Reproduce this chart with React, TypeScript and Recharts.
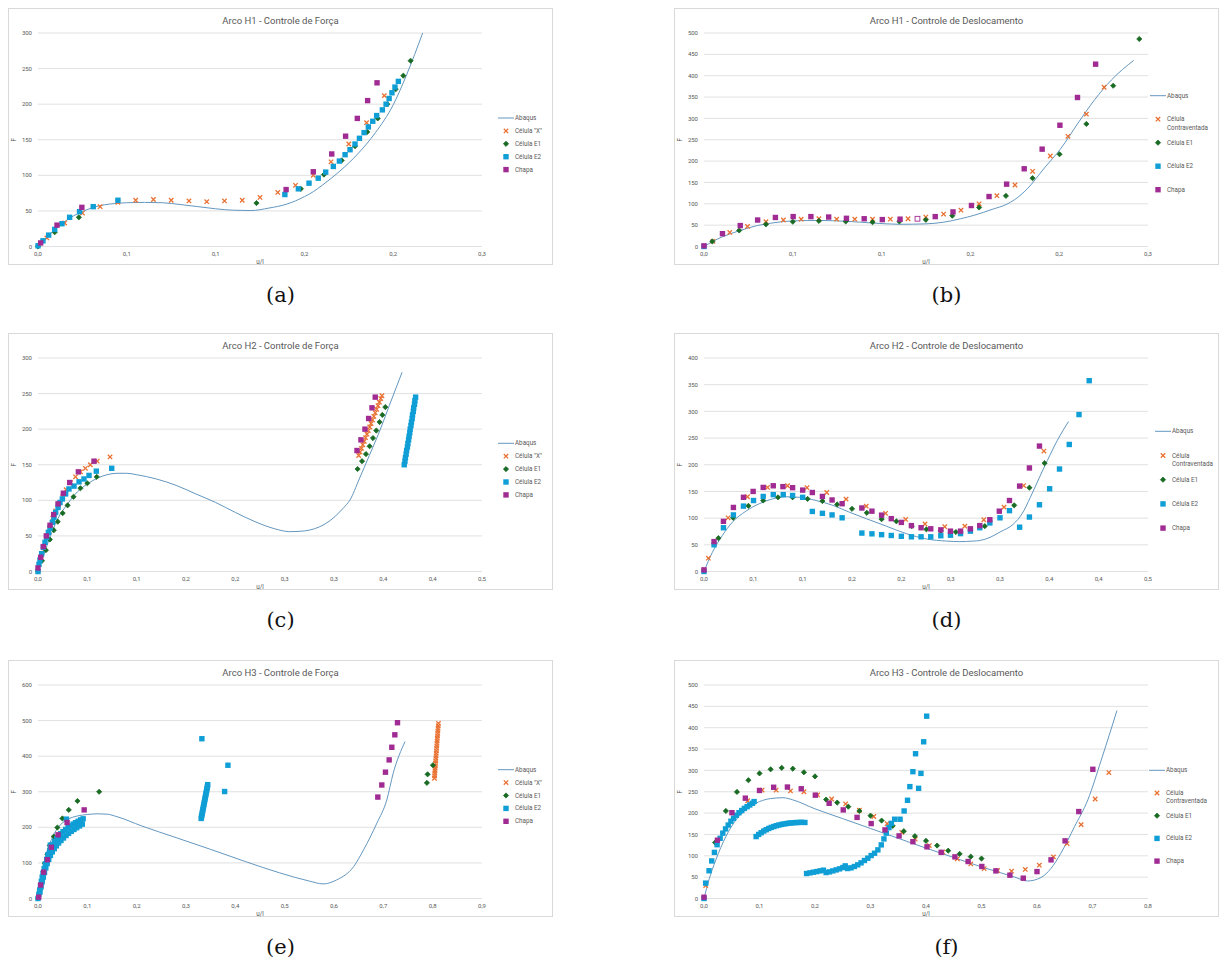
import React from "react";
import { ScatterChart, Scatter, XAxis, YAxis, CartesianGrid } from "recharts";

type P = [number, number];

// axis ticks + the (rounded) labels Excel prints for them
const X_TICKS_025 = [0, 0.05, 0.1, 0.15, 0.2, 0.25];
const X_LABELS_025 = ["0,0", "0,1", "0,1", "0,2", "0,2", "0,3"];
const X_TICKS_045 = [0, 0.05, 0.1, 0.15, 0.2, 0.25, 0.3, 0.35, 0.4, 0.45];
const X_LABELS_045 = ["0,0", "0,1", "0,1", "0,2", "0,2", "0,3", "0,3", "0,4", "0,4", "0,5"];
const X_TICKS_09 = [0, 0.1, 0.2, 0.3, 0.4, 0.5, 0.6, 0.7, 0.8, 0.9];
const X_LABELS_09 = ["0,0", "0,1", "0,2", "0,3", "0,4", "0,5", "0,6", "0,7", "0,8", "0,9"];
const X_TICKS_08 = [0, 0.1, 0.2, 0.3, 0.4, 0.5, 0.6, 0.7, 0.8];
const X_LABELS_08 = ["0,0", "0,1", "0,2", "0,3", "0,4", "0,5", "0,6", "0,7", "0,8"];
const Y_TICKS_300 = [0, 50, 100, 150, 200, 250, 300];
const Y_TICKS_400 = [0, 50, 100, 150, 200, 250, 300, 350, 400];
const Y_TICKS_500 = [0, 50, 100, 150, 200, 250, 300, 350, 400, 450, 500];
const Y_TICKS_600 = [0, 100, 200, 300, 400, 500, 600];

// (a) Arco H1 - Controle de Força   [u/l, F]
const A_ABAQUS: P[] = [[0, 0], [0.005, 13], [0.01, 25], [0.015, 35], [0.02, 43], [0.025, 49], [0.03, 54], [0.035, 57.5], [0.04, 59.5], [0.05, 61.5], [0.06, 62], [0.07, 61.5], [0.08, 59], [0.09, 56], [0.1, 53], [0.11, 51], [0.12, 50.5], [0.13, 54], [0.14, 59.5], [0.15, 70], [0.155, 77], [0.16, 86], [0.17, 106], [0.18, 130], [0.19, 160], [0.2, 199], [0.2075, 241], [0.2166, 300]];
const A_X: P[] = [[0.005, 12], [0.015, 33], [0.025, 47], [0.035, 56], [0.045, 62], [0.055, 65], [0.065, 66], [0.075, 65], [0.085, 64], [0.095, 63], [0.105, 64], [0.115, 65], [0.125, 69], [0.135, 76], [0.145, 86], [0.155, 100], [0.165, 119], [0.175, 144], [0.185, 174], [0.195, 212]];
const A_E1: P[] = [[0, 0], [0.0094, 20], [0.023, 41], [0.123, 61], [0.148, 81], [0.161, 101], [0.171, 121], [0.1785, 141], [0.1854, 161], [0.1913, 180], [0.1967, 200], [0.2014, 221], [0.2057, 240], [0.2098, 261]];
const A_E2: P[] = [[0, 1], [0.0028, 8], [0.006, 16], [0.0094, 24], [0.0135, 32], [0.0178, 41], [0.0234, 49], [0.0311, 56], [0.045, 65], [0.139, 73], [0.1466, 81], [0.1526, 89], [0.1578, 96], [0.162, 104.5], [0.1663, 112.5], [0.1697, 120], [0.1729, 129], [0.1757, 136], [0.1785, 144], [0.181, 152], [0.1836, 160], [0.186, 168], [0.1885, 176], [0.1907, 184], [0.1939, 192], [0.196, 200], [0.1977, 208], [0.1993, 216], [0.201, 224], [0.2029, 232]];
const A_CHAPA: P[] = [[0.0015, 5], [0.0107, 30], [0.0247, 55], [0.1397, 80], [0.155, 105], [0.1654, 130], [0.1732, 155], [0.1798, 180], [0.1856, 205], [0.1909, 230]];

// (b) Arco H1 - Controle de Deslocamento
const B_ABAQUS: P[] = [[0, 0], [0.005, 12], [0.01, 22], [0.02, 37], [0.03, 49], [0.04, 56], [0.05, 60], [0.065, 61], [0.08, 59], [0.095, 55], [0.11, 52], [0.125, 53], [0.135, 57], [0.1445, 65], [0.152, 73], [0.163, 88], [0.17, 98], [0.175, 110], [0.182, 135], [0.1917, 184], [0.201, 230], [0.2106, 289], [0.22, 344], [0.2294, 390], [0.242, 436]];
const B_X: P[] = [[0.005, 12], [0.0145, 33], [0.0245, 47], [0.0349, 58], [0.0447, 62], [0.0547, 64], [0.0647, 65], [0.0747, 64], [0.0849, 64], [0.0949, 64], [0.1049, 64], [0.1149, 65], [0.1249, 69], [0.1349, 76], [0.1447, 85], [0.1549, 100], [0.1649, 119], [0.1751, 144], [0.185, 176], [0.195, 212], [0.2049, 258], [0.2153, 310], [0.2253, 373]];
const B_E1: P[] = [[0.0047, 12], [0.0198, 37.5], [0.0349, 52], [0.05, 58], [0.0647, 60], [0.0798, 58.6], [0.0949, 57], [0.11, 58.6], [0.1249, 62.5], [0.1398, 72], [0.1549, 91.4], [0.17, 118.6], [0.185, 160], [0.2002, 216], [0.2153, 287], [0.2304, 376.5], [0.2451, 486]];
const B_E2: P[] = [[0, 0]];
const B_CHAPA: P[] = [[0, 1.5], [0.0104, 30], [0.0204, 49], [0.0302, 62], [0.0402, 68], [0.0502, 70], [0.0602, 70], [0.0702, 69], [0.0802, 66], [0.0902, 65], [0.1004, 63], [0.1104, 64], [0.1302, 70], [0.1402, 81], [0.1506, 96], [0.1605, 117], [0.1704, 146], [0.1803, 182], [0.1904, 228], [0.2004, 284], [0.2103, 349], [0.2205, 427]];
const B_CHAPA_OPEN: P[] = [[0.1202, 65]];

// (c) Arco H2 - Controle de Força
const C_ABAQUS: P[] = [[0, 0], [0.005, 20], [0.01, 40], [0.02, 74], [0.03, 95], [0.04, 112], [0.05, 123], [0.06, 131], [0.07, 136], [0.08, 138], [0.09, 138], [0.1, 136], [0.12, 130], [0.14, 121], [0.16, 109], [0.18, 97], [0.2, 83], [0.22, 70], [0.24, 60], [0.255, 56], [0.27, 57], [0.28, 60], [0.29, 66], [0.3, 76], [0.31, 90], [0.316, 100], [0.3256, 130], [0.3358, 163], [0.3459, 196], [0.356, 233], [0.369, 280]];
const C_X: P[] = [[0, 0], [0.003, 17], [0.006, 33], [0.009, 48], [0.012, 62], [0.015, 75], [0.018, 85], [0.021, 95], [0.025, 105], [0.0285, 115], [0.033, 125], [0.038, 133], [0.043, 140], [0.048, 145], [0.053, 150], [0.06, 155], [0.073, 161], [0.325, 163], [0.3264, 168], [0.3278, 173], [0.3292, 178], [0.3306, 183], [0.332, 188], [0.3334, 193], [0.3348, 198], [0.3362, 203], [0.3376, 208], [0.339, 213], [0.3404, 218], [0.3418, 223], [0.3432, 228], [0.3446, 233], [0.346, 238], [0.3474, 243], [0.3486, 247]];
const C_E1: P[] = [[0, 0], [0.004, 15], [0.008, 30], [0.012, 45], [0.016, 58], [0.02, 70], [0.025, 82], [0.03, 93], [0.036, 105], [0.043, 117], [0.05, 124], [0.0595, 133], [0.3239, 144], [0.3284, 155], [0.3324, 165], [0.3361, 176], [0.3395, 187.5], [0.3429, 198], [0.3462, 210], [0.349, 220], [0.352, 231]];
const C_E2: P[] = [[0, 0], [0.001, 10], [0.002, 16], [0.0037, 25], [0.0054, 34], [0.0071, 41], [0.0088, 48], [0.0105, 55], [0.0122, 61], [0.0145, 69], [0.0162, 76], [0.0179, 83], [0.0203, 90], [0.0223, 97], [0.0247, 102], [0.028, 109], [0.0314, 116], [0.0365, 120], [0.0416, 126], [0.0466, 130], [0.0517, 135], [0.0591, 141], [0.0747, 145], [0.3712, 150], [0.3719, 155], [0.3724, 160], [0.3731, 165], [0.3736, 170], [0.3744, 175], [0.3749, 180], [0.3756, 185], [0.3761, 190], [0.3768, 195], [0.3772, 200], [0.378, 205], [0.3785, 210], [0.3792, 215], [0.3796, 220], [0.3804, 225], [0.3808, 230], [0.3816, 235], [0.382, 240], [0.3827, 245]];
const C_CHAPA: P[] = [[0, 5], [0.0027, 20], [0.0054, 35], [0.0084, 50], [0.0122, 65], [0.0159, 80], [0.0203, 95], [0.0257, 110], [0.0321, 125], [0.0409, 140], [0.0568, 155], [0.3233, 170], [0.3273, 185], [0.3314, 200], [0.3351, 215], [0.3385, 230], [0.3418, 245]];

// (d) Arco H2 - Controle de Deslocamento
const D_ABAQUS: P[] = [[0, 0], [0.0085, 36], [0.0186, 67.5], [0.0288, 92.5], [0.0424, 113], [0.056, 127], [0.0695, 136], [0.083, 140], [0.0966, 139], [0.1136, 133], [0.1305, 124], [0.1475, 111], [0.1644, 99], [0.1847, 85], [0.205, 71], [0.2254, 61], [0.2458, 57], [0.2593, 56], [0.273, 57], [0.2795, 58], [0.29, 64], [0.3, 74], [0.3137, 89], [0.3223, 108], [0.3308, 139], [0.3394, 174], [0.348, 208], [0.3582, 246], [0.3695, 281]];
const D_X: P[] = [[0, 3], [0.0044, 25], [0.0244, 100.6], [0.0441, 140], [0.0644, 157.5], [0.0847, 160.6], [0.1044, 157], [0.1244, 148], [0.144, 135.6], [0.1644, 122.5], [0.184, 109], [0.2044, 97.5], [0.224, 89], [0.244, 84], [0.2644, 85], [0.2836, 97], [0.3041, 120.6], [0.324, 161], [0.3445, 225.6]];
const D_E1: P[] = [[0.0146, 62.5], [0.0295, 100.6], [0.045, 123], [0.06, 133], [0.075, 139], [0.0898, 139], [0.105, 136], [0.12, 132], [0.135, 125.6], [0.15, 117.5], [0.165, 110], [0.18, 98], [0.195, 94], [0.2105, 85], [0.2254, 79], [0.24, 76], [0.2553, 74], [0.2846, 85], [0.3144, 124], [0.3298, 157], [0.3452, 203]];
const D_E2: P[] = [[0, 0], [0.0102, 50], [0.0197, 82], [0.0298, 106], [0.04, 122.5], [0.0502, 133], [0.06, 140.6], [0.0702, 144], [0.0803, 144], [0.0898, 142.5], [0.1, 139], [0.1098, 112.5], [0.12, 109], [0.1298, 106], [0.14, 100.6], [0.16, 72], [0.1702, 70.6], [0.18, 69], [0.1898, 67.5], [0.2, 66], [0.2102, 65], [0.22, 65], [0.2298, 65], [0.24, 67], [0.2498, 68], [0.26, 71], [0.27, 75.6], [0.2795, 82], [0.2897, 91], [0.3, 100.6], [0.3096, 114], [0.3199, 83], [0.3298, 102], [0.34, 125], [0.3503, 155], [0.3603, 192], [0.3702, 238], [0.3801, 294], [0.3904, 357.5]];
const D_CHAPA: P[] = [[0, 3], [0.0102, 56], [0.0197, 94], [0.0298, 120], [0.04, 139], [0.0498, 150], [0.06, 157.5], [0.0702, 160.6], [0.08, 159], [0.0898, 157], [0.1, 152.5], [0.1098, 148], [0.12, 140.6], [0.1298, 134], [0.14, 127], [0.16, 119], [0.1702, 113], [0.18, 105.6], [0.1898, 99], [0.2, 92], [0.2102, 86], [0.22, 82], [0.2298, 80], [0.24, 78], [0.2498, 75.6], [0.26, 75.6], [0.27, 80], [0.2795, 86], [0.2897, 97], [0.2993, 113], [0.3096, 133], [0.3199, 160], [0.3298, 194], [0.34, 235]];

// (e) Arco H3 - Controle de Força
const E_ABAQUS: P[] = [[0, 0], [0.007, 62], [0.017, 127], [0.027, 165], [0.04, 198], [0.06, 222], [0.08, 232], [0.1, 236], [0.12, 238], [0.14, 237], [0.16, 230], [0.21, 204], [0.28, 171], [0.35, 138], [0.42, 104], [0.49, 72], [0.55, 49], [0.578, 41], [0.605, 52], [0.64, 90], [0.66, 137], [0.687, 212], [0.707, 277], [0.72, 352], [0.744, 441]];
const E_X: P[] = [[0.8036, 338], [0.804, 345], [0.8043, 352], [0.8047, 359], [0.805, 366], [0.8054, 373], [0.8058, 380], [0.8061, 387], [0.8065, 394], [0.8069, 401], [0.8072, 408], [0.8076, 415], [0.808, 422], [0.8083, 429], [0.8087, 436], [0.8091, 443], [0.8094, 450], [0.8098, 457], [0.8102, 464], [0.8105, 471], [0.8109, 478], [0.8113, 485], [0.8117, 492]];
const E_E1: P[] = [[0, 0], [0.004, 25], [0.008, 50], [0.011, 75], [0.0136, 99], [0.019, 124.5], [0.0237, 149], [0.0319, 174], [0.0393, 199.4], [0.0495, 225], [0.0624, 249], [0.08, 274], [0.124, 300], [0.7883, 325], [0.7897, 349], [0.8005, 374.5]];
const E_E2: P[] = [[0, 0], [0.0017, 12], [0.0034, 24], [0.0051, 36], [0.0068, 48], [0.0085, 60], [0.0102, 71], [0.0125, 84], [0.0149, 97], [0.0176, 110], [0.0203, 123], [0.0237, 134], [0.0271, 144], [0.0305, 152], [0.0339, 160], [0.038, 168], [0.042, 176], [0.046, 182], [0.0508, 188], [0.056, 194], [0.061, 199], [0.066, 204], [0.0712, 209], [0.076, 213], [0.0814, 217], [0.0865, 221], [0.0915, 224],
  [0.004, 18], [0.0062, 33], [0.0085, 47], [0.0108, 60], [0.0132, 73], [0.0158, 86], [0.0186, 98], [0.0218, 110], [0.0252, 121], [0.029, 131], [0.033, 140], [0.0372, 148], [0.0418, 156], [0.0466, 163], [0.0516, 170], [0.0568, 177], [0.062, 183], [0.0675, 189], [0.073, 194], [0.0785, 199], [0.0842, 204], [0.0898, 209],
  [0.025, 150], [0.0576, 223], [0.3308, 225], [0.3315, 230], [0.3322, 235], [0.3329, 240], [0.3336, 245], [0.3343, 250], [0.335, 255], [0.3357, 260], [0.3364, 265], [0.3371, 270], [0.3378, 275], [0.3385, 280], [0.3392, 285], [0.3399, 290], [0.3406, 295], [0.3413, 300], [0.342, 305], [0.3427, 310], [0.3434, 315], [0.344, 320], [0.3322, 449], [0.385, 374.5], [0.3783, 300.6]];
const E_CHAPA: P[] = [[0.0014, 4], [0.0054, 38], [0.0115, 74], [0.019, 109], [0.0271, 144], [0.0407, 179], [0.059, 213.5], [0.0936, 249], [0.6888, 285], [0.6969, 319], [0.7043, 355], [0.7118, 389.5], [0.7172, 425], [0.7233, 460], [0.7287, 494]];

// (f) Arco H3 - Controle de Deslocamento
const F_ABAQUS: P[] = [[0, 0], [0.009, 44], [0.0212, 90], [0.0394, 145], [0.0576, 184], [0.0758, 208], [0.1, 227], [0.12, 234], [0.1424, 236], [0.16, 231], [0.2, 210], [0.25, 187], [0.3, 164], [0.35, 141], [0.4, 118], [0.45, 96], [0.5, 74], [0.535, 60], [0.56, 50], [0.583, 41], [0.607, 49], [0.625, 70], [0.643, 106], [0.6675, 168], [0.6916, 231], [0.7157, 324], [0.744, 440]];
const F_X: P[] = [[0.003, 30], [0.0788, 229], [0.1048, 254], [0.13, 254], [0.1558, 252], [0.18, 250], [0.2048, 242.6], [0.23, 233], [0.2552, 221.5], [0.28, 206.7], [0.306, 192], [0.33, 175], [0.3564, 155], [0.3806, 139], [0.406, 124], [0.4303, 109], [0.4564, 93], [0.4806, 81], [0.5048, 70], [0.5289, 65.5], [0.5542, 64], [0.5789, 68], [0.6042, 78], [0.6295, 97.5], [0.6542, 128.7], [0.6795, 173], [0.7048, 233], [0.7295, 295]];
const F_E1: P[] = [[0.02, 131], [0.0394, 205], [0.0594, 249.6], [0.08, 277], [0.1, 293], [0.12, 302.6], [0.14, 306], [0.16, 304], [0.18, 295.6], [0.2, 286], [0.22, 231.7], [0.24, 224.6], [0.26, 215], [0.28, 205], [0.3, 194], [0.32, 182.5], [0.34, 170], [0.36, 157.6], [0.38, 146], [0.4, 135], [0.42, 124], [0.44, 112], [0.4606, 104.5], [0.4806, 98], [0.5, 93.6]];
const F_E2: P[] = [[0, 0], [0.003, 36], [0.0091, 65], [0.0139, 88], [0.0188, 108], [0.0236, 126], [0.0291, 141], [0.0339, 153], [0.0388, 163], [0.0436, 172], [0.0485, 181], [0.0533, 188], [0.0582, 195], [0.063, 201], [0.0679, 206], [0.0727, 211], [0.0776, 215], [0.0824, 219], [0.0873, 223], [0.0903, 227],
  [0.0939, 145], [0.0985, 150], [0.103, 154], [0.1076, 158], [0.1121, 161], [0.1167, 164], [0.1212, 166.5], [0.1258, 168.5], [0.1303, 170.5], [0.1348, 172], [0.1394, 173.5], [0.1439, 174.5], [0.1485, 175.5], [0.153, 176.5], [0.1576, 177], [0.1621, 177.5], [0.1667, 178], [0.1712, 178], [0.1758, 178.5], [0.1818, 178],
  [0.1848, 58.5], [0.1909, 60], [0.197, 61.6], [0.203, 63], [0.2091, 64.7], [0.2152, 66.3], [0.22, 60.8], [0.2261, 62.4], [0.2321, 64.7], [0.2382, 67], [0.2442, 69.4], [0.2503, 72.5], [0.2545, 76.4], [0.2588, 70.2], [0.2648, 71.8], [0.2709, 74.9], [0.277, 78.8], [0.283, 83.5], [0.2891, 89], [0.2952, 94.4], [0.3012, 100.6], [0.3073, 106], [0.3133, 113.9], [0.3194, 125.6], [0.3242, 139.6], [0.3285, 153], [0.3333, 166], [0.3376, 176], [0.3436, 185.6], [0.3533, 185.6], [0.3606, 205], [0.3667, 230], [0.3709, 262], [0.3764, 297], [0.3812, 339], [0.3867, 258], [0.3909, 293], [0.3958, 367], [0.4012, 427]];
const F_CHAPA: P[] = [[0, 3], [0.0242, 136.5], [0.0503, 201], [0.0745, 235], [0.1, 253], [0.1255, 260.5], [0.1503, 261], [0.1752, 257], [0.2006, 242], [0.2255, 223], [0.2509, 207.5], [0.2758, 190], [0.3012, 175.5], [0.3261, 160.7], [0.3515, 146.6], [0.3764, 133], [0.4018, 121], [0.4273, 108], [0.4521, 97.5], [0.4759, 86.6], [0.5006, 75], [0.5259, 64.7], [0.5512, 54.6], [0.5753, 47.6], [0.6, 63], [0.6253, 90.5], [0.6506, 135], [0.6753, 203.6], [0.7006, 302.6]];

const C_ABQ = "#6497BF";
const C_X_COL = "#E97132";
const C_E1_COL = "#196B24";
const C_E2_COL = "#0F9ED5";
const C_CH_COL = "#A02B93";
const TXT = "#595959";
const FONT = "Roboto, 'Open Sans', sans-serif";

const W = 545;
const H = 257;
const PLOT_LEFT = 30;
const PLOT_BOTTOM = 18.5;
const M = { top: 25, right: 71, bottom: 0, left: 0 };

const pts = (a: P[]) => a.map(([u, F]) => ({ u, F }));

const markX = (cx: number, cy: number) => (
  <path d={`M${cx - 2.2},${cy - 2.2}L${cx + 2.2},${cy + 2.2}M${cx - 2.2},${cy + 2.2}L${cx + 2.2},${cy - 2.2}`} stroke={C_X_COL} strokeWidth={1.3} fill="none" />
);
const markDiamond = (cx: number, cy: number) => (
  <path d={`M${cx},${cy - 2.6}L${cx + 2.6},${cy}L${cx},${cy + 2.6}L${cx - 2.6},${cy}Z`} fill={C_E1_COL} stroke={C_E1_COL} strokeWidth={0.8} />
);
const markSquare = (color: string) => (cx: number, cy: number) => (
  <rect x={cx - 2.7} y={cy - 2.7} width={5.4} height={5.4} fill={color} />
);
const markOpen = (cx: number, cy: number) => (
  <rect x={cx - 2.4} y={cy - 2.4} width={4.8} height={4.8} fill="#fff" stroke={C_CH_COL} strokeWidth={0.9} />
);

interface Cfg {
  left: number;
  top: number;
  caption: string;
  title: string;
  xMax: number;
  xTicks: number[];
  xLabels: string[];
  yMax: number;
  yTicks: number[];
  abaqus: P[];
  cx: P[];
  e1: P[];
  e2: P[];
  chapa: P[];
  open?: P[];
  xName: string;
  legend: { x: number; y: number; step: number };
}

const PANELS: Cfg[] = [
  { left: 8, top: 8, caption: "(a)", title: "Arco H1 - Controle de Força", xMax: 0.25, xTicks: X_TICKS_025, xLabels: X_LABELS_025, yMax: 300, yTicks: Y_TICKS_300, abaqus: A_ABAQUS, cx: A_X, e1: A_E1, e2: A_E2, chapa: A_CHAPA, xName: 'Célula "X"', legend: { x: 490, y: 110, step: 12.9 } },
  { left: 674, top: 8, caption: "(b)", title: "Arco H1 - Controle de Deslocamento", xMax: 0.25, xTicks: X_TICKS_025, xLabels: X_LABELS_025, yMax: 500, yTicks: Y_TICKS_500, abaqus: B_ABAQUS, cx: B_X, e1: B_E1, e2: B_E2, chapa: B_CHAPA, open: B_CHAPA_OPEN, xName: "Célula Contraventada", legend: { x: 476, y: 87.7, step: 23.5 } },
  { left: 8, top: 333, caption: "(c)", title: "Arco H2 - Controle de Força", xMax: 0.45, xTicks: X_TICKS_045, xLabels: X_LABELS_045, yMax: 300, yTicks: Y_TICKS_300, abaqus: C_ABAQUS, cx: C_X, e1: C_E1, e2: C_E2, chapa: C_CHAPA, xName: 'Célula "X"', legend: { x: 490, y: 110.3, step: 12.9 } },
  { left: 674, top: 333, caption: "(d)", title: "Arco H2 - Controle de Deslocamento", xMax: 0.45, xTicks: X_TICKS_045, xLabels: X_LABELS_045, yMax: 400, yTicks: Y_TICKS_400, abaqus: D_ABAQUS, cx: D_X, e1: D_E1, e2: D_E2, chapa: D_CHAPA, xName: "Célula Contraventada", legend: { x: 481, y: 98.3, step: 24.2 } },
  { left: 8, top: 660, caption: "(e)", title: "Arco H3 - Controle de Força", xMax: 0.9, xTicks: X_TICKS_09, xLabels: X_LABELS_09, yMax: 600, yTicks: Y_TICKS_600, abaqus: E_ABAQUS, cx: E_X, e1: E_E1, e2: E_E2, chapa: E_CHAPA, xName: 'Célula "X"', legend: { x: 490, y: 109.7, step: 12.9 } },
  { left: 674, top: 660, caption: "(f)", title: "Arco H3 - Controle de Deslocamento", xMax: 0.8, xTicks: X_TICKS_08, xLabels: X_LABELS_08, yMax: 500, yTicks: Y_TICKS_500, abaqus: F_ABAQUS, cx: F_X, e1: F_E1, e2: F_E2, chapa: F_CHAPA, xName: "Célula Contraventada", legend: { x: 475, y: 110.3, step: 22.7 } },
];

function Legend({ cfg }: { cfg: Cfg }) {
  const { x, y, step } = cfg.legend;
  const wrap = cfg.xName === "Célula Contraventada";
  const tx = x + 17;
  const mx = x + 8;
  const t = { fontSize: 6.3, fill: TXT, fontFamily: FONT, dominantBaseline: "central" as const };
  return (
    <g>
      <line x1={x} x2={x + 16} y1={y} y2={y} stroke={C_ABQ} strokeWidth={1} />
      <text x={tx} y={y} {...t}>Abaqus</text>
      {markX(mx, y + step)}
      {wrap ? (
        <>
          <text x={tx} y={y + step} {...t}>Célula</text>
          <text x={tx} y={y + step + 8.3} {...t}>Contraventada</text>
        </>
      ) : (
        <text x={tx} y={y + step} {...t}>{cfg.xName}</text>
      )}
      {markDiamond(mx, y + 2 * step)}
      <text x={tx} y={y + 2 * step} {...t}>Célula E1</text>
      {markSquare(C_E2_COL)(mx, y + 3 * step)}
      <text x={tx} y={y + 3 * step} {...t}>Célula E2</text>
      {markSquare(C_CH_COL)(mx, y + 4 * step)}
      <text x={tx} y={y + 4 * step} {...t}>Chapa</text>
    </g>
  );
}

function Panel({ cfg }: { cfg: Cfg }) {
  const tick = { fontSize: 6, fill: TXT, fontFamily: FONT };
  const plotMidX = PLOT_LEFT + (W - PLOT_LEFT - M.right) / 2;
  const plotMidY = M.top + (H - M.top - PLOT_BOTTOM) / 2;
  return (
    <>
      <div style={{ position: "absolute", left: cfg.left, top: cfg.top, width: W, height: H }}>
        <div style={{ position: "absolute", inset: 0, border: "1px solid #D9D9D9", boxSizing: "border-box", background: "#fff" }} />
        <div style={{ position: "absolute", left: 0, top: 0 }}>
          <ScatterChart width={W} height={H} margin={M}>
            <CartesianGrid vertical={false} stroke="#D9D9D9" strokeWidth={0.8} />
            <XAxis type="number" dataKey="u" domain={[0, cfg.xMax]} ticks={cfg.xTicks} interval={0}
              tickFormatter={(v: number, i: number) => cfg.xLabels[i] ?? String(v)}
              axisLine={false} tickLine={false} tickSize={0} tickMargin={5} height={PLOT_BOTTOM} tick={tick} />
            <YAxis type="number" dataKey="F" domain={[0, cfg.yMax]} ticks={cfg.yTicks} interval={0}
              axisLine={false} tickLine={false} tickSize={0} tickMargin={6} width={PLOT_LEFT} tick={tick} />
            <Scatter data={pts(cfg.abaqus)} fill={C_ABQ} line={{ stroke: C_ABQ, strokeWidth: 1 }} lineJointType="monotoneX"
              shape={() => <g />} isAnimationActive={false} />
            <Scatter data={pts(cfg.cx)} fill={C_X_COL} shape={(p: any) => markX(p.cx, p.cy)} isAnimationActive={false} />
            <Scatter data={pts(cfg.e1)} fill={C_E1_COL} shape={(p: any) => markDiamond(p.cx, p.cy)} isAnimationActive={false} />
            <Scatter data={pts(cfg.e2)} fill={C_E2_COL} shape={(p: any) => markSquare(C_E2_COL)(p.cx, p.cy)} isAnimationActive={false} />
            <Scatter data={pts(cfg.chapa)} fill={C_CH_COL} shape={(p: any) => markSquare(C_CH_COL)(p.cx, p.cy)} isAnimationActive={false} />
            {cfg.open && (
              <Scatter data={pts(cfg.open)} fill="#fff" shape={(p: any) => markOpen(p.cx, p.cy)} isAnimationActive={false} />
            )}
          </ScatterChart>
        </div>
        <svg width={W} height={H} style={{ position: "absolute", left: 0, top: 0, pointerEvents: "none" }}>
          <text x={W / 2} y={12.5} textAnchor="middle" dominantBaseline="central" fontSize={9.5} fill={TXT} fontFamily={FONT}>{cfg.title}</text>
          <text x={0} y={0} transform={`translate(5.5,${plotMidY}) rotate(-90)`} textAnchor="middle" dominantBaseline="central" fontSize={6.3} fill={TXT} fontFamily={FONT}>F</text>
          <text x={plotMidX} y={254} textAnchor="middle" dominantBaseline="central" fontSize={6.3} fill={TXT} fontFamily={FONT}>u/l</text>
          <Legend cfg={cfg} />
        </svg>
      </div>
      <div style={{ position: "absolute", left: cfg.left, top: cfg.top + H + 17, width: W, textAlign: "center", fontFamily: "'DejaVu Serif', serif", fontSize: 21, color: "#111", lineHeight: "26px" }}>
        {cfg.caption}
      </div>
    </>
  );
}

export default function App() {
  return (
    <div style={{ position: "absolute", left: 0, top: 0, width: 1219, height: 969, background: "#fff" }}>
      {PANELS.map((c) => (
        <Panel key={c.caption} cfg={c} />
      ))}
    </div>
  );
}
